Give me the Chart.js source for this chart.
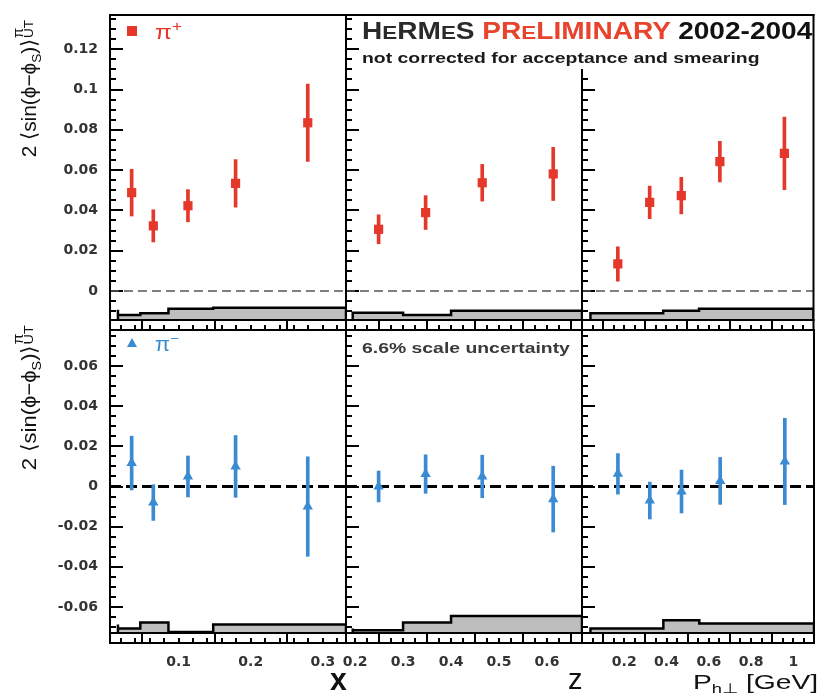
<!DOCTYPE html>
<html>
<head>
<meta charset="utf-8">
<script src="https://cdn.jsdelivr.net/npm/chart.js@4.4.0/dist/chart.umd.min.js"></script>
<style>
  body { margin: 0; background: #fff; }
  #wrap { position: relative; width: 820px; height: 697px; overflow: hidden; }
  #wrap canvas { position: absolute; left: 0; top: 0; }
  .t { position: absolute; white-space: nowrap; line-height: 1; font-family: "Liberation Sans", Arial, sans-serif; color: #222; z-index: 5; }
  .up { position: relative; top: -0.55em; font-size: 70%; }
  .dn { position: relative; top: 0.35em; font-size: 65%; }
  .sm { font-size: 80%; }
  .ss { position: relative; display: inline-block; width: 1.15em; height: 1em; }
  .ss .a { position: absolute; left: 0.05em; top: -0.3em; font-size: 70%; }
  .ss .b { position: absolute; left: 0.05em; top: 0.5em; font-size: 65%; }
  .mark { position: absolute; z-index: 5; }
</style>
</head>
<body>
<div id="wrap">
  <div class="t" data-x="362" data-y="30.5" data-w="450" style="font-size:24px;font-weight:bold">
    <span style="color:#2a2a2a">H<span class="sm">E</span>RM<span class="sm">E</span>S</span>
    <span style="color:#e8432c">PR<span class="sm">E</span>LIMINARY</span>
    <span style="color:#111">2002-2004</span>
  </div>
  <div class="t" data-x="362" data-y="57" data-w="398" style="font-size:15px;font-weight:bold;color:#1a1a1a">not corrected for acceptance and smearing</div>
  <div class="t" data-x="362" data-y="347" data-w="208" style="font-size:15px;font-weight:bold;color:#3a3a3a">6.6% scale uncertainty</div>

  <div class="t rot" data-cx="27" data-y="86" data-w="142" style="font-size:21px;color:#111">2 ⟨sin(ϕ−ϕ<span class="dn">S</span>)⟩<span class="ss"><span class="a">π</span><span class="b">UT</span></span></div>
  <div class="t rot" data-cx="27" data-y="395" data-w="150" style="font-size:21px;color:#111">2 ⟨sin(ϕ−ϕ<span class="dn">S</span>)⟩<span class="ss"><span class="a">π</span><span class="b">UT</span></span></div>

  <div class="mark" style="left:127px;top:26px;width:10px;height:10px;background:#e5372a"></div>
  <div class="t" data-x="155" data-y="31.5" data-w="27" style="font-size:20px;color:#e5372a">π<span class="up">+</span></div>
  <div class="mark" style="left:127px;top:338px;width:0;height:0;border-left:5px solid transparent;border-right:5px solid transparent;border-bottom:9px solid #3b8bd3"></div>
  <div class="t" data-x="155" data-y="343.5" data-w="24" style="font-size:20px;color:#3b8bd3">π<span class="up">−</span></div>

  <div class="t" data-x="330" data-y="678.7" data-w="17" style="font-size:32px;font-weight:bold;color:#111">x</div>
  <div class="t" data-x="568" data-y="679" data-w="15" style="font-size:29px;color:#111">z</div>
  <div class="t" data-x="693" data-y="680.7" data-w="125" style="font-size:21px;color:#111">P<span class="dn">h⊥</span> [GeV]</div>
</div>
<script>
// axis limits
const xLim = [0.005, 0.332];
const zLim = [0.181, 0.673];
const pLim = [0, 1.098];
const topLim = [-0.0194, 0.137];
const botLim = [-0.078, 0.078];

// bin centres
const xBins = [0.035, 0.065, 0.113, 0.179, 0.279];
const zBins = [0.249, 0.347, 0.465, 0.613];
const pBins = [0.17, 0.321, 0.471, 0.654, 0.96];

// pi+ asymmetries and statistical errors
const piPlusX = [0.0488, 0.0323, 0.0423, 0.0534, 0.0835];
const piPlusXErr = [0.0116, 0.008, 0.008, 0.0118, 0.0192];
const piPlusZ = [0.0306, 0.0389, 0.0537, 0.0581];
const piPlusZErr = [0.0072, 0.0084, 0.0091, 0.0132];
const piPlusP = [0.0134, 0.044, 0.0473, 0.0642, 0.0683];
const piPlusPErr = [0.0085, 0.0081, 0.0091, 0.0101, 0.018];

// pi- asymmetries and statistical errors
const piMinusX = [0.0117, -0.008, 0.005, 0.01, -0.01];
const piMinusXErr = [0.0134, 0.0089, 0.0102, 0.0154, 0.0248];
const piMinusZ = [0.0, 0.0062, 0.005, -0.0063];
const piMinusZErr = [0.0077, 0.0096, 0.0106, 0.0164];
const piMinusP = [0.0063, -0.007, -0.0025, 0.0028, 0.0125];
const piMinusPErr = [0.0101, 0.0092, 0.0107, 0.0117, 0.0215];

// systematic bands (histogram bin edges and top of each bin)
const xEdges = [0.016, 0.047, 0.086, 0.148, 0.216, 0.332];
const zEdges = [0.195, 0.3, 0.4, 0.546, 0.673];
const pEdges = [0.04, 0.385, 0.555, 0.795, 1.098];
const sysBaseTop = -0.0144;
const sysBaseBot = -0.0732;
const sysPlusX = [-0.0094, -0.0119, -0.0111, -0.0089, -0.0083];
const sysPlusZ = [-0.0119, -0.0108, -0.0119, -0.0098];
const sysPlusP = [-0.0119, -0.0111, -0.0098, -0.0089];
const sysMinusX = [-0.0688, -0.0708, -0.0678, -0.0725, -0.0688];
const sysMinusZ = [-0.0708, -0.0717, -0.0678, -0.0645];
const sysMinusP = [-0.0717, -0.0708, -0.0667, -0.0683];

const RED = "#e5372a";
const BLUE = "#3b8bd3";
const COLS = [[110, 346], [346, 582], [582, 818]];
const ROWS = [[15, 330], [330, 643]];
const LADDER = 10;
const Y_MAJOR = 0.02;
const Y_MINOR = 0.005;
const TICK_FONT = { family: "DejaVu Sans", size: 14, weight: "bold" };
const NONE = "rgba(0,0,0,0)";

const fmt = (v) => String(parseFloat(v.toFixed(3)));

function steps(edges, tops, base) {
  const pts = [{ x: edges[0], y: base }];
  tops.forEach((h, i) => pts.push({ x: edges[i], y: h }));
  pts.push({ x: edges[edges.length - 1], y: tops[tops.length - 1] });
  pts.push({ x: edges[edges.length - 1], y: base });
  return pts;
}

// frame lines and the inner line of the bottom "ladder"
function framePlugin(p) {
  return {
    id: "frame" + p.col + p.row,
    afterDatasetsDraw(chart) {
      const { ctx, chartArea: a } = chart;
      const inner = a.bottom - LADDER;
      const ltop = a.top + (p.leftFrom || 0);
      const w = a.right - a.left;
      ctx.save();
      ctx.fillStyle = "#000";
      ctx.fillRect(a.left - 1, a.top - 1, w + 2, 2);
      ctx.fillRect(a.left - 1, a.bottom - 1, w + 2, 2);
      ctx.fillRect(a.left - 1, inner - 1, w + 2, 2);
      ctx.fillRect(a.left - 1, ltop - 1, 2, a.bottom - ltop + 2);
      if (p.col === 2) ctx.fillRect(a.right - 1, a.top - 1, 2, a.bottom - a.top + 2);
      ctx.restore();
    },
  };
}

// axis boxes get fixed sizes so the plot areas line up across panels
function fixSize(s) {
  const labels = s.options.ticks.display;
  if (s.isHorizontal()) s.height = labels ? 30 : 0;
  else s.width = labels ? 60 : 0;
  s.paddingLeft = s.paddingRight = s.paddingTop = s.paddingBottom = 0;
}

// inward tick marks: hide the ones that would fall in the ladder or above the frame
function yTickColor(p) {
  return (c) => {
    const a = c.chart.chartArea;
    if (!a || !c.tick) return "#000";
    const py = c.scale.getPixelForValue(c.tick.value);
    return py > a.top + (p.leftFrom || 0) + 3 && py < a.bottom - LADDER - 3 ? "#000" : NONE;
  };
}
function xTickColor(c) {
  const a = c.chart.chartArea;
  if (!a || !c.tick) return "#000";
  const px = c.scale.getPixelForValue(c.tick.value);
  return px > a.left + 3 && px < a.right - 3 ? "#000" : NONE;
}

function tickGrid(len, color) {
  return { display: true, drawOnChartArea: false, drawTicks: true, tickLength: -len, lineWidth: 2, color };
}

function makePanel(p) {
  const [left, right] = COLS[p.col];
  const [top, bottom] = ROWS[p.row];
  const showY = p.col === 0;
  const showX = p.row === 1;
  const yLim = p.row === 0 ? topLim : botLim;
  const base = p.row === 0 ? sysBaseTop : sysBaseBot;
  const color = p.row === 0 ? RED : BLUE;

  const canvas = document.createElement("canvas");
  canvas.width = 820;
  canvas.height = 697;
  document.getElementById("wrap").appendChild(canvas);

  new Chart(canvas, {
    type: "line",
    data: {
      datasets: [
        {
          type: "line",
          data: p.xs.map((x, i) => ({ x, y: p.v[i] })),
          showLine: false,
          pointStyle: p.row === 0 ? "rect" : "triangle",
          pointRadius: p.row === 0 ? 6.5 : 6,
          backgroundColor: color,
          borderColor: color,
          pointBorderWidth: 0,
          order: 0,
        },
        {
          type: "bar",
          data: p.xs.map((x, i) => ({ x, y: [p.v[i] - p.e[i], p.v[i] + p.e[i]] })),
          backgroundColor: color,
          borderWidth: 0,
          barThickness: 3,
          order: 1,
        },
        {
          type: "line",
          data: [{ x: p.lim[0], y: 0 }, { x: p.lim[1], y: 0 }],
          borderColor: p.row === 0 ? "#555" : "#000",
          borderWidth: p.row === 0 ? 1.5 : 3,
          borderDash: p.row === 0 ? [9, 5] : [11, 5],
          pointRadius: 0,
          order: 2,
        },
        {
          type: "line",
          data: steps(p.edges, p.sys, base),
          stepped: "after",
          fill: { value: base },
          backgroundColor: "#bebebe",
          borderColor: "#000",
          borderWidth: 2.5,
          pointRadius: 0,
          order: 3,
        },
      ],
    },
    options: {
      responsive: false,
      animation: false,
      events: [],
      layout: {
        padding: {
          left: left - (showY ? 60 : 0),
          right: 820 - right,
          top: top,
          bottom: 697 - bottom - (showX ? 30 : 0),
        },
      },
      plugins: {
        legend: { display: false },
        tooltip: { enabled: false },
      },
      scales: {
        x: {
          type: "linear",
          position: "bottom",
          weight: 1,
          min: p.lim[0],
          max: p.lim[1],
          offset: false,
          grid: tickGrid(LADDER, xTickColor),
          border: { display: false },
          ticks: {
            display: showX,
            stepSize: p.step,
            includeBounds: false,
            autoSkip: false,
            maxRotation: 0,
            padding: 11 + LADDER,
            color: "#333",
            font: TICK_FONT,
            callback: (v) => (v === 0 ? "" : fmt(v)),
          },
          afterFit: fixSize,
        },
        x2: {
          type: "linear",
          position: "bottom",
          weight: 0,
          min: p.lim[0],
          max: p.lim[1],
          offset: false,
          grid: tickGrid(5, xTickColor),
          border: { display: false },
          ticks: { display: false, stepSize: p.minor, includeBounds: false, autoSkip: false },
          afterFit: fixSize,
        },
        y: {
          type: "linear",
          position: "left",
          weight: 1,
          min: yLim[0],
          max: yLim[1],
          grid: tickGrid(13, yTickColor(p)),
          border: { display: false },
          ticks: {
            display: showY,
            stepSize: Y_MAJOR,
            includeBounds: false,
            padding: 12 + 13,
            color: "#333",
            font: TICK_FONT,
            callback: (v) => fmt(v),
          },
          afterFit: fixSize,
        },
        y2: {
          type: "linear",
          position: "left",
          weight: 0,
          min: yLim[0],
          max: yLim[1],
          grid: tickGrid(6, yTickColor(p)),
          border: { display: false },
          ticks: { display: false, stepSize: Y_MINOR, includeBounds: false },
          afterFit: fixSize,
        },
      },
    },
    plugins: [framePlugin(p)],
  });
}

const panels = [
  { col: 0, row: 0, xs: xBins, v: piPlusX, e: piPlusXErr, edges: xEdges, sys: sysPlusX, lim: xLim, step: 0.1, minor: 0.02 },
  { col: 1, row: 0, xs: zBins, v: piPlusZ, e: piPlusZErr, edges: zEdges, sys: sysPlusZ, lim: zLim, step: 0.1, minor: 0.025 },
  { col: 2, row: 0, xs: pBins, v: piPlusP, e: piPlusPErr, edges: pEdges, sys: sysPlusP, lim: pLim, step: 0.2, minor: 0.05, leftFrom: 55 },
  { col: 0, row: 1, xs: xBins, v: piMinusX, e: piMinusXErr, edges: xEdges, sys: sysMinusX, lim: xLim, step: 0.1, minor: 0.02 },
  { col: 1, row: 1, xs: zBins, v: piMinusZ, e: piMinusZErr, edges: zEdges, sys: sysMinusZ, lim: zLim, step: 0.1, minor: 0.025 },
  { col: 2, row: 1, xs: pBins, v: piMinusP, e: piMinusPErr, edges: pEdges, sys: sysMinusP, lim: pLim, step: 0.2, minor: 0.05 },
];
panels.forEach(makePanel);

// place the overlay texts and stretch them to the widths seen in the picture
document.querySelectorAll(".t").forEach((el) => {
  const k = +el.dataset.w / el.offsetWidth;
  if (el.classList.contains("rot")) {
    el.style.left = el.dataset.cx + "px";
    el.style.top = el.dataset.y + "px";
    el.style.transform = `translate(-50%,-50%) rotate(-90deg) scaleX(${k})`;
  } else {
    el.style.left = el.dataset.x + "px";
    el.style.top = el.dataset.y + "px";
    el.style.transformOrigin = "left center";
    el.style.transform = `translate(0,-50%) scaleX(${k})`;
  }
});
</script>
</body>
</html>
